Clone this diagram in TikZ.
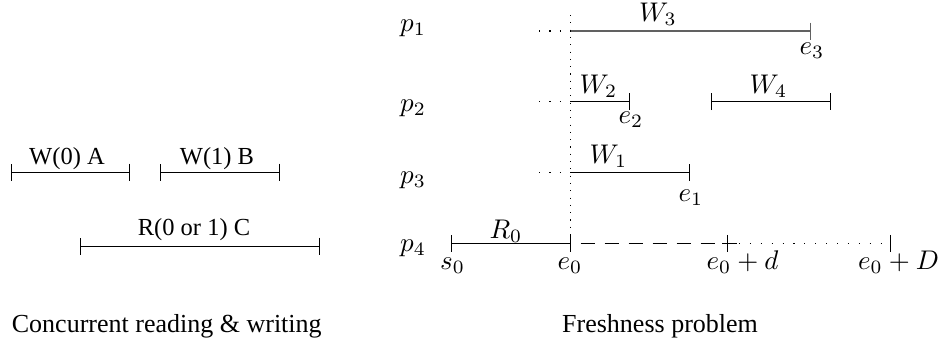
\documentclass[tikz,border=0pt]{standalone}
\usepackage[no-math]{fontspec}
\setmainfont{Liberation Serif}
\usetikzlibrary{arrows.meta}
\newcommand{\mymathlab}[1]{\scalebox{2.7}{$#1$}}
\begin{document}
\begin{tikzpicture}[x=1pt,y=-1pt,
  seg/.style={line width=1pt},
  barseg/.style={line width=1pt,{Bar[width=17pt]}-{Bar[width=17pt]}},
  endbar/.style={line width=1pt,-{Bar[width=17pt]}},
  grayseg/.style={line width=1.4pt,draw=black!62},
  dashseg/.style={line width=1pt,dash pattern=on 14pt off 10pt,dash phase=14pt},
  hdots/.style={line width=1.1pt,dash pattern=on 1.1pt off 9.8pt},
  leaddots/.style={line width=1.1pt,dash pattern=on 1.1pt off 9.3pt},
  vdots/.style={line width=1.1pt,dash pattern=on 1.1pt off 6.2pt},
  txtlab/.style={inner sep=0pt,anchor=base,font=\fontsize{24.5}{29}\selectfont},
  captext/.style={inner sep=0pt,anchor=base west,font=\fontsize{26}{31}\selectfont},
  mthlab/.style={inner sep=0pt,anchor=base},
  proclab/.style={inner sep=0pt,anchor=base west},
  ]
\useasboundingbox (0,0) rectangle (941,341);

% ---------- left panel ----------
\coordinate (a0) at (10.7,172);
\coordinate (a1) at (130,172);
\coordinate (b0) at (160,172);
\coordinate (b1) at (280,172);
\coordinate (c0) at (80,246);
\coordinate (c1) at (320,246);
\draw[barseg] (a0) -- (a1);
\draw[barseg] (b0) -- (b1);
\draw[barseg] (c0) -- (c1);
\node[txtlab] (la) at (67,164) {W(0) A};
\node[txtlab] (lb) at (217,164) {W(1) B};
\node[txtlab] (lc) at (194,235) {R(0 or 1) C};
\node[captext] (capL) at (11.7,332) {Concurrent reading \& writing};

% ---------- right panel ----------
\node[proclab] (p1) at (400,31) {\mymathlab{p_1}};
\node[proclab] (p2) at (400,111.5) {\mymathlab{p_2}};
\node[proclab] (p3) at (400,183) {\mymathlab{p_3}};
\node[proclab] (p4) at (400,251.5) {\mymathlab{p_4}};

\coordinate (v0) at (570.7,15);
\coordinate (e0) at (570.7,243.3);
\coordinate (s0) at (450.7,243.3);
\coordinate (q1) at (539,31);
\coordinate (t1) at (570.7,31);
\coordinate (e3) at (810.7,31);
\coordinate (q2) at (539,101.7);
\coordinate (t2) at (570.7,101.7);
\coordinate (e2) at (630,101.7);
\coordinate (w4a) at (711,101.7);
\coordinate (w4b) at (831,101.7);
\coordinate (q3) at (539,172.5);
\coordinate (t3) at (570.7,172.5);
\coordinate (e1) at (690,172.5);
\coordinate (ed) at (728,243.3);
\coordinate (edL) at (722,243.3);
\coordinate (edR) at (737,243.3);
\coordinate (eD) at (890.7,243.3);

\draw[vdots] (v0) -- (e0);
\draw[leaddots] (q1) -- (t1);
\draw[leaddots] (q2) -- (t2);
\draw[leaddots] (q3) -- (t3);
\draw[grayseg,-{Bar[width=17pt,line width=1pt]}] (t1) -- (e3);
\draw[endbar] (t2) -- (e2);
\draw[barseg] (w4a) -- (w4b);
\draw[endbar] (t3) -- (e1);
\draw[barseg] (s0) -- (e0);
\draw[dashseg] (e0) -- (ed);
\draw[endbar] (edL) -- (ed);
\draw[seg] (ed) -- (edR);
\draw[hdots,-{Bar[width=17pt,line width=1pt]}] (ed) -- (eD);

\node[mthlab] (W3) at (658,21.5) {\mymathlab{W_3}};
\node[mthlab] (W2) at (598.5,93.5) {\mymathlab{W_2}};
\node[mthlab] (W4) at (768.5,93.5) {\mymathlab{W_4}};
\node[mthlab] (W1) at (608.5,163.5) {\mymathlab{W_1}};
\node[mthlab] (R0) at (506,238) {\mymathlab{R_0}};
\node[mthlab] (le3) at (812,54.6) {\mymathlab{e_3}};
\node[mthlab] (le2) at (631,123.6) {\mymathlab{e_2}};
\node[mthlab] (le1) at (691,201.6) {\mymathlab{e_1}};
\node[mthlab] (ls0) at (452.5,269.6) {\mymathlab{s_0}};
\node[mthlab] (le0) at (570,269.6) {\mymathlab{e_0}};
\node[mthlab] (led) at (742.5,269.6) {\mymathlab{e_0+d}};
\node[mthlab] (leD) at (898.5,269.6) {\mymathlab{e_0+D}};
\node[captext] (capR) at (562,332) {Freshness problem};
\end{tikzpicture}
\end{document}
